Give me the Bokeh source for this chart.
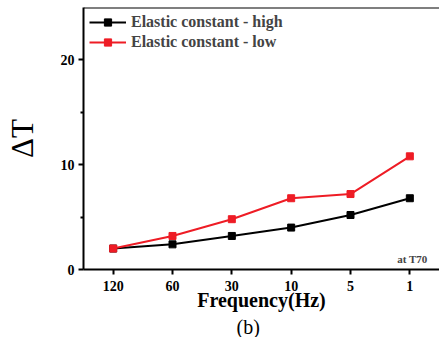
from bokeh.plotting import figure
from bokeh.models import FactorRange, Range1d, Label, Span, Legend, LegendItem, FixedTicker, Title
from bokeh.embed import file_html
from bokeh.resources import INLINE

freqs = ["120", "60", "30", "10", "5", "1"]
high = [2.0, 2.4, 3.2, 4.0, 5.2, 6.8]
low = [2.0, 3.2, 4.8, 6.8, 7.2, 10.8]
y_ticks = [0, 10, 20]

SERIF = "Liberation Serif"
RED = "#ee1c25"

p = figure(width=439, height=337, x_range=FactorRange(*freqs, range_padding=0),
           y_range=Range1d(0, 25), output_backend="svg", toolbar_location=None,
           min_border_left=83, min_border_right=0, min_border_top=7, min_border_bottom=0)
p.outline_line_color = None
p.xgrid.visible = False
p.ygrid.visible = False
p.background_fill_color = "white"
p.border_fill_color = "white"

r1 = p.line(freqs, high, color="black", line_width=2)
s1 = p.scatter(freqs, high, marker="square", size=7, color="black")
r2 = p.line(freqs, low, color=RED, line_width=2)
s2 = p.scatter(freqs, low, marker="square", size=7, color=RED)

legend = Legend(items=[LegendItem(label="Elastic constant - high", renderers=[r1, s1]),
                       LegendItem(label="Elastic constant - low", renderers=[r2, s2])],
                location="top_left")
legend.border_line_color = None
legend.background_fill_alpha = 0
legend.label_text_font = SERIF
legend.label_text_font_style = "bold"
legend.label_text_font_size = "16px"
legend.glyph_width = 37
legend.glyph_height = 18
legend.spacing = 2
legend.padding = 4
legend.margin = 6
legend.label_standoff = 5
p.add_layout(legend)

top = Span(location=25, dimension="width", line_color="black", line_width=2)
p.add_layout(top)

for ax in (p.xaxis[0], p.yaxis[0]):
    ax.axis_line_width = 2
    ax.axis_line_color = "black"
    ax.major_tick_line_width = 2
    ax.minor_tick_line_width = 2
    ax.major_tick_in = 0
    ax.major_tick_out = 5
    ax.minor_tick_in = 0
    ax.minor_tick_out = 3
    ax.major_label_text_font = SERIF
    ax.major_label_text_font_style = "bold"
    ax.major_label_text_font_size = "14px"
    ax.major_label_text_color = "black"
    ax.axis_label_text_color = "black"
    ax.axis_label_text_font = SERIF

p.yaxis.ticker = FixedTicker(ticks=y_ticks, minor_ticks=[5, 15])
p.yaxis.major_label_standoff = 4
p.yaxis.axis_label = "ΔT"
p.yaxis.axis_label_text_font_size = "31px"
p.yaxis.axis_label_text_font_style = "normal"
p.yaxis.axis_label_standoff = 18

p.xaxis.major_label_standoff = 6
p.xaxis.axis_label = "Frequency(Hz)"
p.xaxis.axis_label_text_font_size = "20px"
p.xaxis.axis_label_text_font_style = "bold"
p.xaxis.axis_label_standoff = -5

p.add_layout(Title(text="(b)", align="left", offset=153, standoff=0,
                   text_font=SERIF, text_font_style="normal", text_font_size="20px",
                   text_color="black"), "below")

# Label screen coords are relative to the frame (origin at bottom-left)
p.add_layout(Label(x=344, y=11, x_units="screen", y_units="screen", text="at T70",
                   text_font=SERIF, text_font_style="bold", text_font_size="11px",
                   text_align="right", text_baseline="middle"))

open("out.html", "w").write(file_html(p, INLINE))
